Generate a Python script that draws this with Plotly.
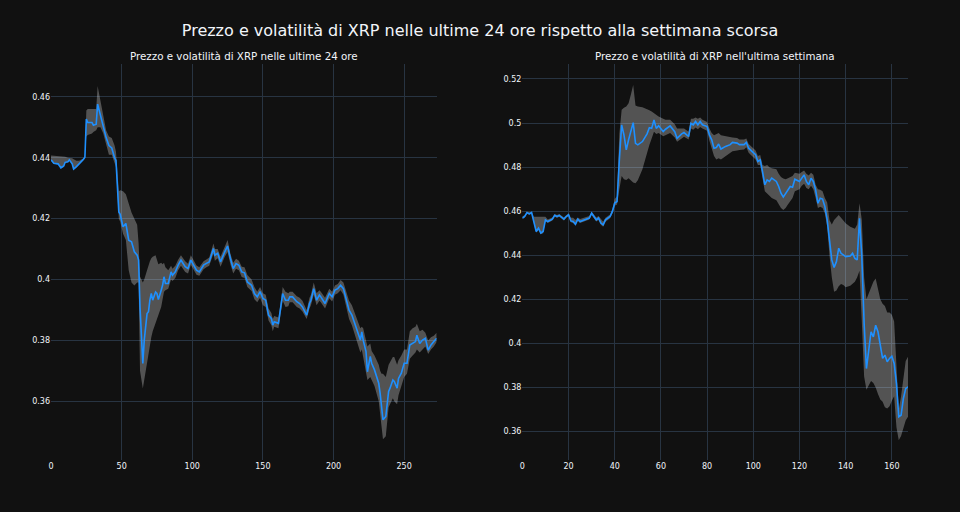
import plotly.graph_objects as go
from plotly.subplots import make_subplots

# ultime 24 ore (indice del campione, prezzo, banda sup., banda inf.)
x_24h = [0, 2, 5, 7, 9, 10, 12, 13, 15, 16, 18, 20, 23, 24, 25, 26, 29, 30, 32, 33,
         35, 37, 39, 41, 43, 45, 46, 48, 49, 51, 53, 55, 57, 59, 61, 62, 63, 65, 66, 68,
         69, 70, 71, 72, 74, 75, 76, 78, 79, 80, 81, 83, 85, 86, 88, 90, 92, 95, 97, 99,
         101, 103, 105, 108, 110, 112, 115, 116, 118, 120, 123, 125, 127, 129, 131, 133, 135, 137, 139, 142,
         144, 146, 148, 150, 152, 154, 156, 157, 158, 161, 162, 164, 166, 168, 169, 171, 174, 176, 178, 181,
         183, 184, 186, 188, 190, 191, 194, 195, 197, 199, 201, 203, 205, 207, 209, 211, 213, 215, 217, 219,
         220, 221, 223, 224, 226, 227, 229, 232, 233, 234, 235, 237, 239, 240, 242, 243, 245, 246, 248, 250,
         252, 254, 256, 258, 259, 261, 263, 265, 267, 269, 271, 273]
price_24h = [0.4393, 0.4382, 0.4380, 0.4367, 0.4373, 0.4385, 0.4387, 0.4393, 0.4380, 0.4363,
             0.4371, 0.4380, 0.4395, 0.4402, 0.4527, 0.4516, 0.4516, 0.4507, 0.4510, 0.4576,
             0.4538, 0.4510, 0.4467, 0.4440, 0.4432, 0.4400, 0.4391, 0.4222, 0.4214, 0.4173,
             0.4184, 0.4129, 0.4124, 0.4091, 0.4080, 0.4064, 0.3910, 0.3724, 0.3800, 0.3888,
             0.3894, 0.3932, 0.3954, 0.3932, 0.3959, 0.3954, 0.3934, 0.3965, 0.3981, 0.4009,
             0.3987, 0.3987, 0.4025, 0.4014, 0.4025, 0.4047, 0.4064, 0.4042, 0.4036, 0.4064,
             0.4047, 0.4031, 0.4025, 0.4047, 0.4053, 0.4058, 0.4102, 0.4080, 0.4086, 0.4058,
             0.4091, 0.4110, 0.4069, 0.4036, 0.4052, 0.4047, 0.4025, 0.4022, 0.3992, 0.3981,
             0.3954, 0.3943, 0.3960, 0.3938, 0.3932, 0.3883, 0.3872, 0.3850, 0.3861, 0.3856,
             0.3889, 0.3954, 0.3932, 0.3932, 0.3943, 0.3943, 0.3927, 0.3921, 0.3910, 0.3883,
             0.3921, 0.3932, 0.3970, 0.3932, 0.3949, 0.3943, 0.3921, 0.3932, 0.3954, 0.3943,
             0.3965, 0.3970, 0.3981, 0.3970, 0.3932, 0.3899, 0.3883, 0.3856, 0.3828, 0.3801,
             0.3828, 0.3801, 0.3763, 0.3697, 0.3747, 0.3725, 0.3703, 0.3659, 0.3626, 0.3583,
             0.3539, 0.3550, 0.3632, 0.3643, 0.3670, 0.3665, 0.3643, 0.3675, 0.3692, 0.3725,
             0.3725, 0.3785, 0.3790, 0.3796, 0.3817, 0.3790, 0.3801, 0.3807, 0.3768, 0.3785,
             0.3796, 0.3807]
upper_24h = [0.4407, 0.4406, 0.4405, 0.4404, 0.4404, 0.4403, 0.4400, 0.4400, 0.4398, 0.4395,
             0.4390, 0.4390, 0.4398, 0.4404, 0.4555, 0.4560, 0.4560, 0.4558, 0.4560, 0.4636,
             0.4585, 0.4530, 0.4490, 0.4470, 0.4465, 0.4440, 0.4420, 0.4290, 0.4293, 0.4290,
             0.4280, 0.4250, 0.4220, 0.4200, 0.4180, 0.4120, 0.4010, 0.3990, 0.4000, 0.4030,
             0.4050, 0.4060, 0.4070, 0.4075, 0.4080, 0.4060, 0.4050, 0.4055, 0.4050, 0.4055,
             0.4040, 0.4030, 0.4045, 0.4035, 0.4045, 0.4065, 0.4080, 0.4060, 0.4052, 0.4080,
             0.4062, 0.4046, 0.4040, 0.4060, 0.4066, 0.4072, 0.4118, 0.4100, 0.4100, 0.4075,
             0.4108, 0.4130, 0.4085, 0.4055, 0.4068, 0.4062, 0.4042, 0.4040, 0.4015, 0.4000,
             0.3975, 0.3960, 0.3975, 0.3955, 0.3950, 0.3905, 0.3890, 0.3870, 0.3880, 0.3875,
             0.3905, 0.3975, 0.3960, 0.3955, 0.3960, 0.3960, 0.3945, 0.3940, 0.3930, 0.3900,
             0.3940, 0.3950, 0.3990, 0.3955, 0.3965, 0.3960, 0.3940, 0.3950, 0.3970, 0.3960,
             0.3980, 0.3985, 0.3998, 0.3990, 0.3960, 0.3930, 0.3915, 0.3890, 0.3870, 0.3840,
             0.3845, 0.3840, 0.3800, 0.3780, 0.3790, 0.3765, 0.3750, 0.3720, 0.3700, 0.3690,
             0.3690, 0.3680, 0.3720, 0.3730, 0.3745, 0.3745, 0.3720, 0.3735, 0.3750, 0.3770,
             0.3770, 0.3830, 0.3840, 0.3845, 0.3855, 0.3830, 0.3835, 0.3825, 0.3800, 0.3810,
             0.3815, 0.3825]
lower_24h = [0.4390, 0.4380, 0.4378, 0.4365, 0.4370, 0.4382, 0.4385, 0.4390, 0.4378, 0.4360,
             0.4368, 0.4377, 0.4392, 0.4399, 0.4470, 0.4475, 0.4480, 0.4485, 0.4490, 0.4500,
             0.4500, 0.4480, 0.4440, 0.4410, 0.4410, 0.4380, 0.4370, 0.4200, 0.4190, 0.4150,
             0.4130, 0.4030, 0.3990, 0.3980, 0.3990, 0.3990, 0.3700, 0.3642, 0.3670, 0.3720,
             0.3760, 0.3790, 0.3810, 0.3830, 0.3855, 0.3870, 0.3885, 0.3910, 0.3935, 0.3960,
             0.3965, 0.3970, 0.4000, 0.3995, 0.4005, 0.4030, 0.4045, 0.4025, 0.4020, 0.4048,
             0.4032, 0.4016, 0.4012, 0.4034, 0.4040, 0.4045, 0.4085, 0.4062, 0.4070, 0.4042,
             0.4075, 0.4090, 0.4050, 0.4020, 0.4035, 0.4030, 0.4008, 0.4005, 0.3975, 0.3962,
             0.3935, 0.3925, 0.3940, 0.3915, 0.3910, 0.3865, 0.3850, 0.3830, 0.3845, 0.3840,
             0.3870, 0.3930, 0.3910, 0.3912, 0.3925, 0.3925, 0.3910, 0.3905, 0.3895, 0.3870,
             0.3905, 0.3915, 0.3950, 0.3915, 0.3930, 0.3925, 0.3905, 0.3915, 0.3938, 0.3928,
             0.3950, 0.3955, 0.3965, 0.3950, 0.3910, 0.3870, 0.3850, 0.3820, 0.3790, 0.3760,
             0.3770, 0.3745, 0.3700, 0.3670, 0.3680, 0.3670, 0.3650, 0.3600, 0.3560, 0.3510,
             0.3475, 0.3485, 0.3580, 0.3590, 0.3610, 0.3600, 0.3590, 0.3620, 0.3650, 0.3680,
             0.3690, 0.3740, 0.3750, 0.3760, 0.3770, 0.3760, 0.3770, 0.3780, 0.3755, 0.3770,
             0.3780, 0.3795]

# ultima settimana
x_7d = [0, 1, 2, 3, 4, 5, 6, 7, 8, 9, 10, 11, 13, 14, 15, 16, 18, 19, 20, 21,
        22, 23, 24, 25, 27, 28, 29, 30, 31, 32, 33, 34, 35, 36, 38, 39, 40, 41, 42, 43,
        44, 45, 46, 47, 48, 49, 50, 52, 53, 54, 55, 56, 57, 58, 59, 61, 62, 64, 66, 67,
        69, 70, 72, 73, 74, 75, 76, 77, 78, 80, 81, 82, 83, 84, 85, 86, 88, 90, 91, 93,
        94, 96, 97, 98, 100, 101, 102, 103, 104, 105, 106, 107, 108, 110, 111, 112, 113, 114, 115, 116,
        117, 118, 120, 121, 122, 123, 124, 125, 126, 127, 128, 129, 130, 131, 132, 133, 134, 135, 136, 137,
        138, 139, 140, 142, 143, 144, 145, 146, 147, 148, 149, 150, 151, 152, 153, 154, 155, 156, 157, 158,
        159, 160, 161, 162, 163, 164, 165, 166, 167]
price_7d = [0.4569, 0.4576, 0.4594, 0.4588, 0.4594, 0.4546, 0.4508, 0.4523, 0.4501, 0.4508,
            0.4561, 0.4553, 0.4564, 0.4581, 0.4576, 0.4581, 0.4564, 0.4576, 0.4584, 0.4556,
            0.4553, 0.4541, 0.4564, 0.4553, 0.4561, 0.4565, 0.4569, 0.4591, 0.4576, 0.4561,
            0.4569, 0.4546, 0.4538, 0.4561, 0.4576, 0.4599, 0.4637, 0.4644, 0.4833, 0.4992,
            0.4946, 0.4878, 0.4924, 0.4961, 0.5002, 0.4908, 0.4901, 0.4916, 0.4931, 0.4951,
            0.4979, 0.4976, 0.5014, 0.4976, 0.4988, 0.4961, 0.4972, 0.4987, 0.4961, 0.4931,
            0.4951, 0.4957, 0.4939, 0.4999, 0.4992, 0.5007, 0.4992, 0.5007, 0.4992, 0.4984,
            0.4947, 0.4924, 0.4886, 0.4889, 0.4905, 0.4882, 0.4894, 0.4902, 0.4912, 0.4909,
            0.4902, 0.4902, 0.4912, 0.4886, 0.4866, 0.4856, 0.4826, 0.4833, 0.4780, 0.4720,
            0.4742, 0.4735, 0.4750, 0.4735, 0.4712, 0.4682, 0.4664, 0.4682, 0.4697, 0.4712,
            0.4709, 0.4745, 0.4735, 0.4750, 0.4765, 0.4735, 0.4720, 0.4750, 0.4735, 0.4697,
            0.4636, 0.4659, 0.4655, 0.4621, 0.4561, 0.4470, 0.4379, 0.4345, 0.4371, 0.4432,
            0.4409, 0.4402, 0.4394, 0.4397, 0.4409, 0.4386, 0.4379, 0.4568, 0.4394, 0.4091,
            0.3886, 0.3970, 0.4053, 0.4030, 0.4083, 0.4053, 0.3985, 0.3932, 0.3947, 0.3917,
            0.3932, 0.3942, 0.3909, 0.3818, 0.3667, 0.3674, 0.3750, 0.3795, 0.3803]
upper_7d = [0.4578, 0.4580, 0.4598, 0.4595, 0.4598, 0.4575, 0.4575, 0.4575, 0.4575, 0.4575,
            0.4575, 0.4562, 0.4572, 0.4587, 0.4583, 0.4587, 0.4572, 0.4582, 0.4590, 0.4570,
            0.4570, 0.4560, 0.4572, 0.4565, 0.4570, 0.4574, 0.4578, 0.4598, 0.4585, 0.4572,
            0.4578, 0.4565, 0.4552, 0.4570, 0.4585, 0.4610, 0.4655, 0.4668, 0.4950, 0.5060,
            0.5070, 0.5075, 0.5090, 0.5130, 0.5173, 0.5080, 0.5075, 0.5072, 0.5068, 0.5062,
            0.5058, 0.5052, 0.5045, 0.5035, 0.5030, 0.5020, 0.5015, 0.5015, 0.4995, 0.4975,
            0.4975, 0.4975, 0.4960, 0.5020, 0.5020, 0.5025, 0.5020, 0.5025, 0.5015, 0.5005,
            0.4975, 0.4955, 0.4945, 0.4950, 0.4955, 0.4945, 0.4940, 0.4935, 0.4935, 0.4932,
            0.4925, 0.4925, 0.4930, 0.4905, 0.4885, 0.4875, 0.4850, 0.4855, 0.4810, 0.4805,
            0.4810, 0.4800, 0.4795, 0.4790, 0.4770, 0.4755, 0.4748, 0.4745, 0.4750, 0.4755,
            0.4760, 0.4775, 0.4770, 0.4778, 0.4785, 0.4770, 0.4762, 0.4775, 0.4765, 0.4720,
            0.4700, 0.4697, 0.4690, 0.4660, 0.4640, 0.4560, 0.4540, 0.4560, 0.4570, 0.4583,
            0.4570, 0.4555, 0.4545, 0.4530, 0.4525, 0.4520, 0.4540, 0.4636, 0.4560, 0.4300,
            0.4200, 0.4230, 0.4250, 0.4280, 0.4295, 0.4250, 0.4200, 0.4180, 0.4170, 0.4140,
            0.4140, 0.4130, 0.4100, 0.3900, 0.3700, 0.3760, 0.3850, 0.3920, 0.3939]
lower_7d = [0.4565, 0.4570, 0.4588, 0.4584, 0.4588, 0.4540, 0.4502, 0.4515, 0.4495, 0.4500,
            0.4555, 0.4547, 0.4558, 0.4575, 0.4570, 0.4575, 0.4558, 0.4570, 0.4578, 0.4550,
            0.4546, 0.4535, 0.4556, 0.4546, 0.4553, 0.4558, 0.4562, 0.4583, 0.4568, 0.4553,
            0.4560, 0.4538, 0.4530, 0.4552, 0.4568, 0.4590, 0.4625, 0.4630, 0.4700, 0.4760,
            0.4745, 0.4742, 0.4750, 0.4740, 0.4730, 0.4727, 0.4740, 0.4790, 0.4830, 0.4860,
            0.4900, 0.4930, 0.4960, 0.4950, 0.4955, 0.4940, 0.4945, 0.4955, 0.4935, 0.4915,
            0.4930, 0.4938, 0.4925, 0.4975, 0.4970, 0.4980, 0.4972, 0.4982, 0.4975, 0.4965,
            0.4920, 0.4890, 0.4850, 0.4835, 0.4840, 0.4835, 0.4850, 0.4865, 0.4872, 0.4875,
            0.4878, 0.4880, 0.4890, 0.4865, 0.4845, 0.4835, 0.4810, 0.4810, 0.4750, 0.4690,
            0.4680, 0.4670, 0.4660, 0.4650, 0.4630, 0.4615, 0.4606, 0.4615, 0.4630, 0.4645,
            0.4660, 0.4690, 0.4700, 0.4715, 0.4725, 0.4705, 0.4700, 0.4715, 0.4700, 0.4660,
            0.4615, 0.4620, 0.4615, 0.4590, 0.4530, 0.4400, 0.4300, 0.4235, 0.4240, 0.4260,
            0.4270, 0.4265, 0.4255, 0.4262, 0.4270, 0.4280, 0.4300, 0.4330, 0.4100, 0.3850,
            0.3790, 0.3810, 0.3830, 0.3820, 0.3800, 0.3770, 0.3745, 0.3735, 0.3710, 0.3705,
            0.3715, 0.3740, 0.3760, 0.3620, 0.3561, 0.3580, 0.3620, 0.3650, 0.3667]

BG = "#111111"
LINE_COLOR = "#1E90FF"
BAND_COLOR = "rgba(255,255,255,0.28)"
FONT = "DejaVu Sans, Verdana, sans-serif"

fig = make_subplots(
    rows=1, cols=2,
    subplot_titles=("Prezzo e volatilità di XRP nelle ultime 24 ore",
                    "Prezzo e volatilità di XRP nell'ultima settimana"),
)


def add_band_and_price(fig, x, price, upper, lower, col):
    fig.add_trace(go.Scatter(x=x, y=upper, mode="lines", line=dict(width=0),
                             showlegend=False, hoverinfo="skip"), row=1, col=col)
    fig.add_trace(go.Scatter(x=x, y=lower, mode="lines", line=dict(width=0),
                             fill="tonexty", fillcolor=BAND_COLOR,
                             showlegend=False, hoverinfo="skip"), row=1, col=col)
    fig.add_trace(go.Scatter(x=x, y=price, mode="lines",
                             line=dict(color=LINE_COLOR, width=1.6),
                             showlegend=False), row=1, col=col)


add_band_and_price(fig, x_24h, price_24h, upper_24h, lower_24h, 1)
add_band_and_price(fig, x_7d, price_7d, upper_7d, lower_7d, 2)

for ann in fig.layout.annotations:
    ann.font = dict(family=FONT, size=10.3, color="#f2f5fa")

axis_style = dict(gridcolor="#283442", zeroline=False, showline=False,
                  tickfont=dict(family=FONT, size=8, color="#f2f5fa"))
fig.update_xaxes(**axis_style)
fig.update_yaxes(**axis_style)
fig.update_xaxes(range=[0, 273], row=1, col=1)
fig.update_xaxes(range=[0, 167], dtick=20, row=1, col=2)
fig.update_yaxes(range=[0.3407, 0.4708], dtick=0.02, row=1, col=1)
fig.update_yaxes(range=[0.3471, 0.5268], dtick=0.02, row=1, col=2)

fig.update_layout(
    template="plotly_dark",
    width=960, height=512,
    paper_bgcolor=BG, plot_bgcolor=BG,
    margin=dict(l=51, r=52, t=64, b=52),
    font=dict(family=FONT, color="#f2f5fa"),
    title=dict(text="Prezzo e volatilità di XRP nelle ultime 24 ore rispetto alla settimana scorsa",
               x=0.5, xanchor="center", y=0.94, yanchor="middle",
               font=dict(family=FONT, size=16)),
    showlegend=False,
)

# niente margine bianco attorno al grafico
fig.write_html("out.html", config={"displayModeBar": False},
               post_script="document.body.style.margin='0';document.body.style.background='#111111';")
